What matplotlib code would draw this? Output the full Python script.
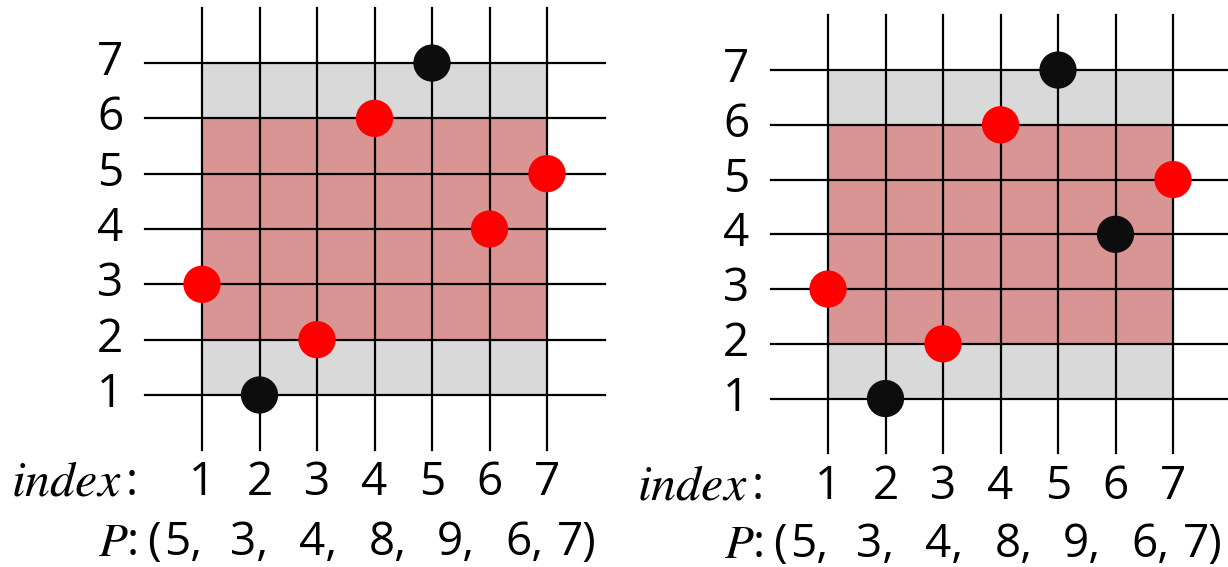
import matplotlib
matplotlib.use("Agg")
import matplotlib.pyplot as plt

plt.rcParams["font.family"] = ["Open Sans", "DejaVu Sans"]
plt.rcParams["mathtext.fontset"] = "stix"

# data
index = [1, 2, 3, 4, 5, 6, 7]
P = [5, 3, 4, 8, 9, 6, 7]
rank = [3, 1, 2, 6, 7, 4, 5]           # y position of each point
left_colors = ["red", "black", "red", "red", "black", "red", "red"]
right_colors = ["red", "black", "red", "red", "black", "black", "red"]
grey_box = (1, 7, 1, 7)                # x0, x1, y0, y1
red_box = (1, 7, 2, 6)
ylabels = [1, 2, 3, 4, 5, 6, 7]

# where each item of the P row starts, pixels right of the x=1 grid line
p_offsets = [-38, 28, 97, 167, 235, 303, 355]

W, H = 1228, 567
UNIT = 57.5                            # pixels per x unit
fig = plt.figure(figsize=(W / 100, H / 100), dpi=100)


def px_axes(x0, x8, y0, y8):
    # axes spanning data 0..8 in both directions, given pixel positions
    return fig.add_axes([x0 / W, 1 - y0 / H, (x8 - x0) / W, (y0 - y8) / H])


def dx(px):
    return 1 + px / UNIT


def panel(ax, colors, idx_y, p_y):
    ax.set_xlim(0, 8)
    ax.set_ylim(0, 8)
    ax.axis("off")
    gx0, gx1, gy0, gy1 = grey_box
    ax.fill_between([gx0, gx1], gy0, gy1, color="#d9d9d9", lw=0, zorder=1)
    rx0, rx1, ry0, ry1 = red_box
    ax.fill_between([rx0, rx1], ry0, ry1, color="#d99594", lw=0, zorder=1)
    for v in index:
        ax.plot([v, v], [0, 8], color="black", lw=1.6, zorder=2, clip_on=False)
    for v in ylabels:
        ax.plot([0, 8], [v, v], color="black", lw=1.6, zorder=2, clip_on=False)
    ax.scatter(index, rank, s=720,
               c=["#ff0000" if c == "red" else "#0d0d0d" for c in colors],
               zorder=3, clip_on=False, linewidths=0)
    for v in ylabels:
        ax.text(dx(-92), v, str(v), fontsize=33, ha="center", va="center")
    for v in index:
        ax.text(v, idx_y, str(v), fontsize=33, ha="center", va="center")
    ax.text(dx(-191), idx_y, "$index$", fontsize=36, ha="left", va="center")
    ax.text(dx(-76), idx_y, ":", fontsize=33, ha="left", va="center")
    ax.text(dx(-104), p_y, "$P$", fontsize=34, ha="left", va="center")
    ax.text(dx(-75), p_y, ":", fontsize=33, ha="left", va="center")
    ax.text(dx(-55), p_y, "(", fontsize=33, ha="left", va="center")
    for i, (off, p) in enumerate(zip(p_offsets, P)):
        tok = f"{p})" if i == len(P) - 1 else f"{p},"
        ax.text(dx(off), p_y, tok, fontsize=33, ha="left", va="center")


axl = px_axes(144.5, 604.5, 450.3, 7.7)
panel(axl, left_colors, -0.59, -1.68)

axr = px_axes(770.5, 1230.5, 453.3, 15.3)
panel(axr, right_colors, -0.62, -1.68)

fig.savefig("out.png", dpi=100)
